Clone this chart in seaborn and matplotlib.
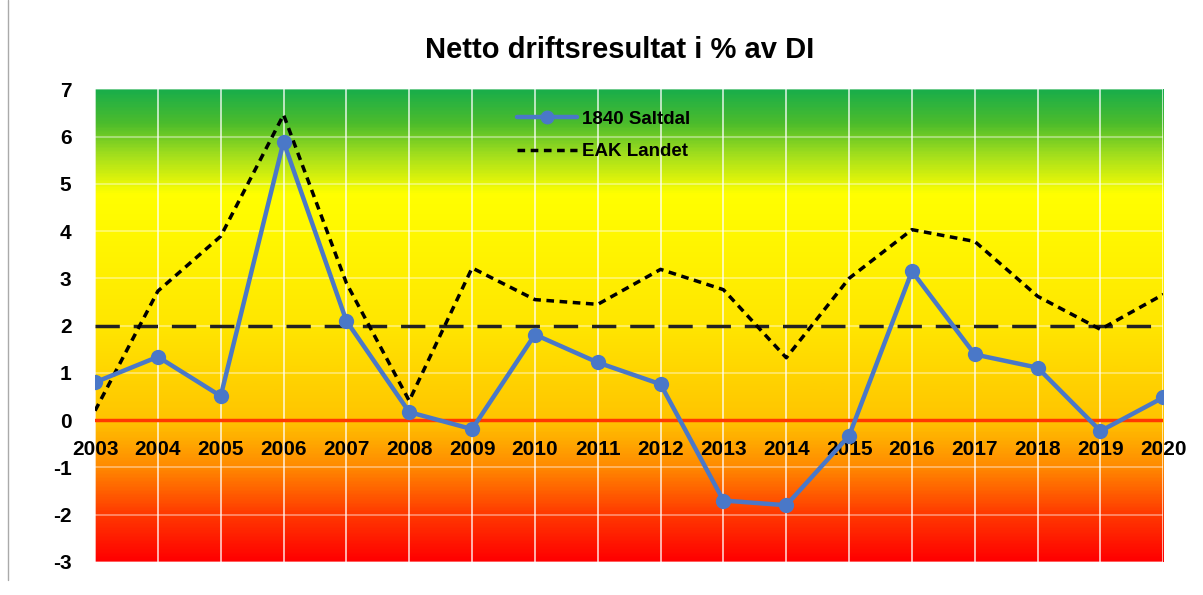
import numpy as np
import pandas as pd
import matplotlib
matplotlib.use("Agg")
import matplotlib.pyplot as plt
from matplotlib.colors import LinearSegmentedColormap
from matplotlib.lines import Line2D
import seaborn as sns

# ── Data ──────────────────────────────────────────────────────────────────────
years = list(range(2003, 2021))
saltdal = [0.80, 1.34, 0.51, 5.89, 2.10, 0.17, -0.19, 1.81, 1.22, 0.76,
           -1.70, -1.80, -0.33, 3.15, 1.39, 1.11, -0.23, 0.48]
eak_landet = [0.20, 2.73, 3.89, 6.46, 2.90, 0.41, 3.22, 2.55, 2.45, 3.19,
              2.76, 1.32, 3.00, 4.03, 3.78, 2.62, 1.92, 2.66]
target_level = 2
y_ticks = list(range(-3, 8))

sns.set_theme(style="white")
plt.rcParams["font.family"] = ["Liberation Sans", "DejaVu Sans"]

df = pd.DataFrame({"year": years, "1840 Saltdal": saltdal, "EAK Landet": eak_landet})

fig = plt.figure(figsize=(12.03, 5.95), dpi=100)
ax = fig.add_axes([0.079, 0.0555, 0.888, 0.7945])

# gradient background, red (low) -> orange -> yellow -> green (high)
stops = [(0.0, "#ff0000"), (0.1, "#ff3a00"), (0.2, "#ff8a00"), (0.3, "#ffc400"),
         (0.5, "#ffe600"), (0.78, "#ffff00"), (0.86, "#a6e01c"), (0.93, "#4cbc2c"),
         (1.0, "#1aae4a")]
cmap = LinearSegmentedColormap.from_list("bg", stops)
grad = np.linspace(0, 1, 400).reshape(-1, 1)
ax.imshow(grad, cmap=cmap, origin="lower", aspect="auto",
          extent=[years[0], years[-1], y_ticks[0], y_ticks[-1]], zorder=0)

# grid
for yr in years:
    ax.axvline(yr, color="white", lw=1.2, alpha=0.8, zorder=1)
for yv in y_ticks:
    ax.axhline(yv, color="white", lw=1.2, alpha=0.45, zorder=1)

ax.axhline(0, color="#ff3a00", lw=2.5, zorder=2)
ax.axhline(target_level, color="#222222", lw=2.5, dashes=(7, 4), zorder=2)

sns.lineplot(data=df, x="year", y="EAK Landet", ax=ax, color="black",
             lw=2.5, zorder=3, legend=False)
ax.lines[-1].set_dashes((2.2, 1.6))
sns.lineplot(data=df, x="year", y="1840 Saltdal", ax=ax, color="#4a78c8",
             lw=3.2, marker="o", markersize=11, markeredgewidth=0, zorder=4,
             legend=False)

ax.spines["bottom"].set_position(("data", 0))
for s in ax.spines.values():
    s.set_visible(False)
ax.set_xlim(years[0], years[-1])
ax.set_ylim(y_ticks[0], y_ticks[-1])
ax.set_yticks(y_ticks)
ax.set_xticks(years)
ax.set_xticklabels([str(y) for y in years], fontweight="bold", fontsize=15,
                   color="black")
ax.set_yticklabels([str(v) for v in y_ticks], fontweight="bold", fontsize=15,
                   color="black")
ax.tick_params(axis="x", length=0, pad=14)
ax.tick_params(axis="y", length=0, pad=17)
ax.set_xlabel("")
ax.set_ylabel("")

handles = [Line2D([], [], color="#4a78c8", lw=3.2, marker="o", markersize=9),
           Line2D([], [], color="black", lw=2.5, dashes=(2.2, 1.6))]
ax.legend(handles, ["1840 Saltdal", "EAK Landet"], loc="upper left",
          bbox_to_anchor=(0.379, 0.99), frameon=False, handlelength=3.2,
          prop={"weight": "bold", "size": 13.5}, labelspacing=0.8,
          handletextpad=0.3, labelcolor="black")

fig.text(0.515, 0.916, "Netto driftsresultat i % av DI", ha="center",
         va="center", fontsize=21, fontweight="bold", color="black")
fig.add_artist(Line2D([0.007, 0.007], [0.025, 1.0], color="#aaaaaa", lw=1))

fig.savefig("out.png", dpi=100)
